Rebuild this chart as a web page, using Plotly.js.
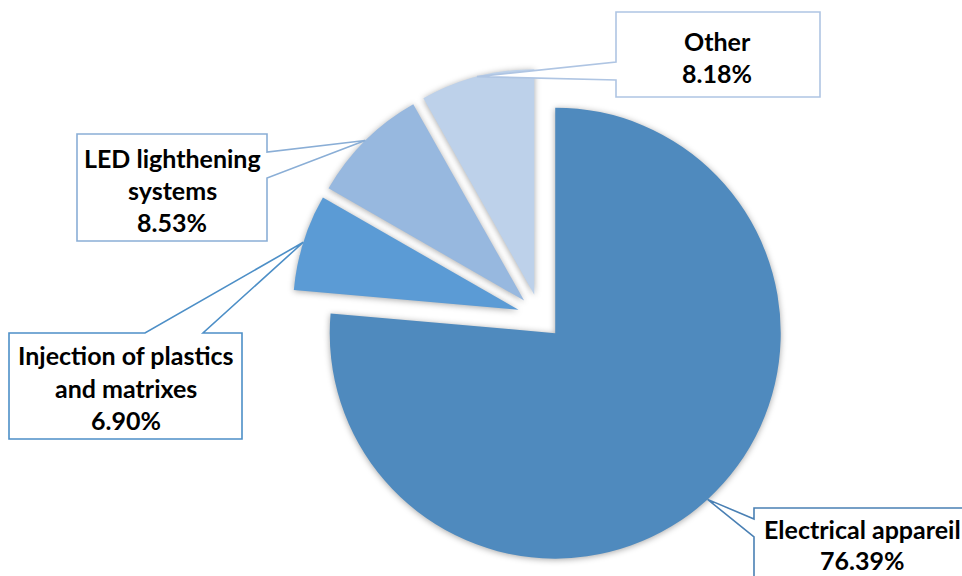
<!DOCTYPE html>
<html>
<head>
<meta charset="utf-8">
<script src="https://cdn.plot.ly/plotly-3.0.1.min.js"></script>
<style>
  html, body { margin: 0; padding: 0; background: #ffffff; }
  #chart { width: 962px; height: 576px; }
  .pielayer path.surface { filter: drop-shadow(0px 1px 3px rgba(0,0,0,0.35)); }
</style>
</head>
<body>
<div id="chart"></div>
<script>
// ---- data ----
const categories = ["Electrical appareil", "Injection of plastics and matrixes", "LED lighthening systems", "Other"];
const shares = [76.39, 6.90, 8.53, 8.18];
const sliceColors = ["#4F8ABE", "#5B9BD5", "#97B8DF", "#BDD1EA"];
const borderColors = ["#4A80B4", "#4D8FC7", "#8AAED6", "#AFC5E3"];

// ---- layout constants (pixels) ----
const W = 962, H = 576;
const PULL = 0.1;
const CX = 540, CY = 316.5, R = 225.5;          // pie centre and radius
const HALF = R * (1 + PULL);                     // half of the pie box
const FONT = { family: "Lato, 'Open Sans', sans-serif", size: 25, color: "#000000", weight: 700 };

// callout boxes: [x0, y0, x1, y1], the side the wedge leaves from, wedge base span, line centres, text centre x
const boxes = [
  { x0: 754, y0: 508, x1: 980, y1: 600, side: "left", b0: 519, b1: 537, lines: [529, 560], tx: 862 },
  { x0: 9,   y0: 333, x1: 242, y1: 439, side: "top",  b0: 145, b1: 203, lines: [355, 388, 420], tx: 125.5 },
  { x0: 77,  y0: 134, x1: 267, y1: 241, side: "right", b0: 152, b1: 178, lines: [158, 190, 222], tx: 172 },
  { x0: 616, y0: 12,  x1: 820, y1: 97,  side: "left", b0: 62, b1: 80, lines: [41, 73], tx: 717 }
];

const px = x => x / W;
const py = y => 1 - y / H;

function wrap(text, maxChars) {
  const words = text.split(" ");
  const out = [];
  let cur = "";
  words.forEach(w => {
    if (cur && (cur + " " + w).length > maxChars) { out.push(cur); cur = w; }
    else cur = cur ? cur + " " + w : w;
  });
  if (cur) out.push(cur);
  return out;
}

// mid-angle of each slice (clockwise from 12 o'clock), from the data
const total = shares.reduce((a, b) => a + b, 0);
let acc = 0;
const tips = shares.map(v => {
  const mid = (acc + v / 2) / total * 2 * Math.PI;
  acc += v;
  const dx = Math.sin(mid), dy = -Math.cos(mid);
  const off = PULL * R;
  return [CX + dx * (off + R), CY + dy * (off + R)];
});

const shapes = [];
const annotations = [];
boxes.forEach((b, i) => {
  const t = tips[i];
  let pts;
  if (b.side === "left") {
    pts = [[b.x0, b.y0], [b.x1, b.y0], [b.x1, b.y1], [b.x0, b.y1], [b.x0, b.b1], t, [b.x0, b.b0]];
  } else if (b.side === "right") {
    pts = [[b.x0, b.y0], [b.x1, b.y0], [b.x1, b.b0], t, [b.x1, b.b1], [b.x1, b.y1], [b.x0, b.y1]];
  } else { // top
    pts = [[b.x0, b.y0], [b.b0, b.y0], t, [b.b1, b.y0], [b.x1, b.y0], [b.x1, b.y1], [b.x0, b.y1]];
  }
  const path = "M " + pts.map(p => px(p[0]).toFixed(5) + "," + py(p[1]).toFixed(5)).join(" L ") + " Z";
  shapes.push({
    type: "path", xref: "paper", yref: "paper", path: path,
    fillcolor: "#ffffff", line: { color: borderColors[i], width: 1.6 }, layer: "above"
  });
  const lines = wrap(categories[i], 21).concat([shares[i].toFixed(2) + "%"]);
  lines.forEach((txt, k) => {
    annotations.push({
      xref: "paper", yref: "paper", x: px(b.tx), y: py(b.lines[k]),
      xanchor: "center", yanchor: "middle", showarrow: false,
      text: txt, font: FONT
    });
  });
});

const trace = {
  type: "pie",
  labels: categories,
  values: shares,
  sort: false,
  direction: "clockwise",
  rotation: 0,
  pull: shares.map(() => PULL),
  marker: { colors: sliceColors, line: { width: 0 } },
  textinfo: "none",
  hoverinfo: "label+percent",
  showlegend: false,
  domain: { x: [px(CX - HALF), px(CX + HALF)], y: [py(CY + HALF), py(CY - HALF)] }
};

const layout = {
  width: W, height: H,
  margin: { l: 0, r: 0, t: 0, b: 0 },
  paper_bgcolor: "#ffffff",
  showlegend: false,
  shapes: shapes,
  annotations: annotations
};

Plotly.newPlot("chart", [trace], layout, { displayModeBar: false, staticPlot: true });
</script>
</body>
</html>
